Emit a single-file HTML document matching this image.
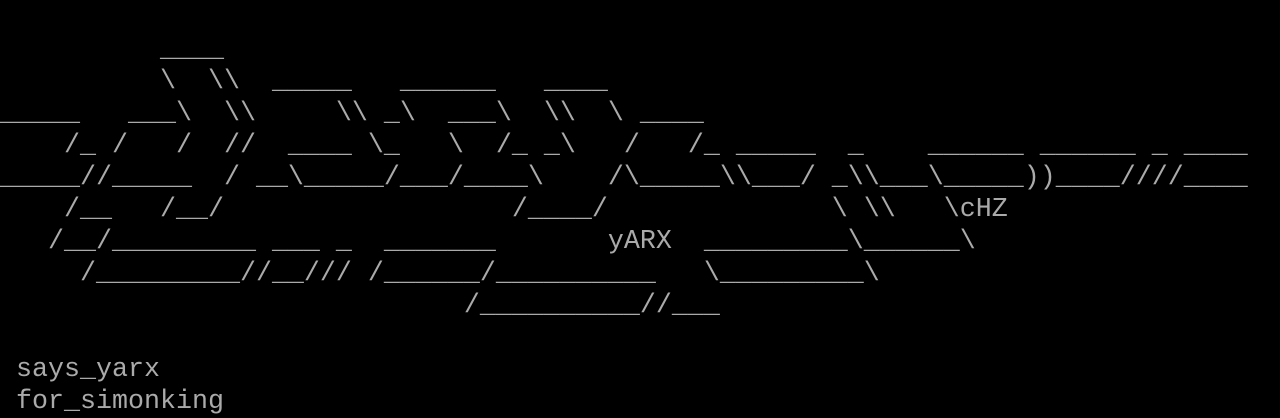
<!DOCTYPE html>
<html><head><meta charset="utf-8"><style>
html,body{margin:0;padding:0;background:#000;width:1280px;height:416px;overflow:hidden}
pre{margin:0;padding:0;font-family:"Liberation Mono","DejaVu Sans Mono",monospace;font-size:26.667px;line-height:32px;color:#aaa;white-space:pre;position:absolute;left:0;top:2px}
</style></head><body><pre>

          ____
          \  \\  _____   ______   ____
_____   ___\  \\     \\ _\  ___\  \\  \ ____
    /_ /   /  //  ____ \_   \  /_ _\   /   /_ _____  _    ______ ______ _ ____
_____//_____  / __\_____/___/____\    /\_____\\___/ _\\___\_____))____////____
    /__   /__/                  /____/              \ \\   \cHZ
   /__/_________ ___ _  _______       yARX  _________\______\
     /_________//__/// /______/__________   \_________\
                             /__________//___

 says_yarx
 for_simonking</pre></body></html>
